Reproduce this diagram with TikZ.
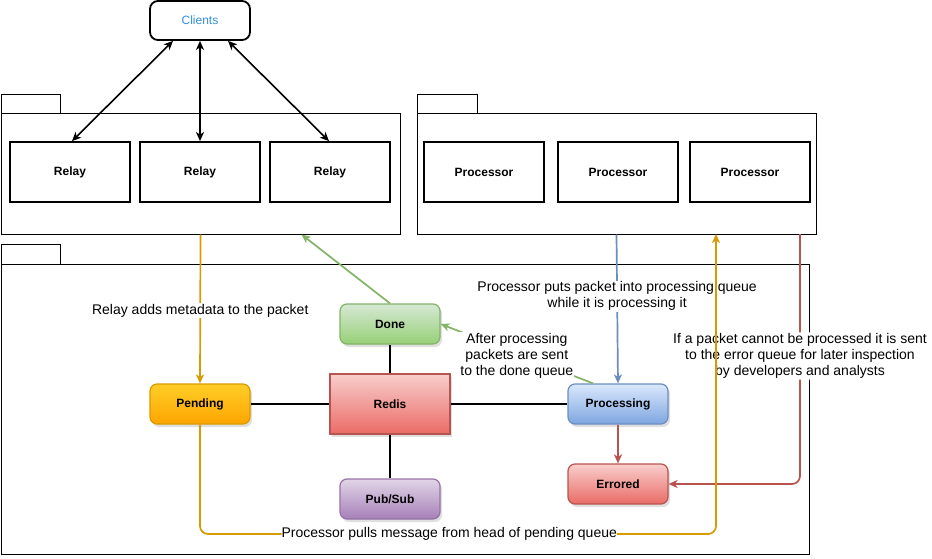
\documentclass[tikz,border=0pt]{standalone}
\usepackage{fontspec}
\setmainfont{Liberation Sans}
\usetikzlibrary{arrows.meta,shadows}

\definecolor{giallo}{HTML}{D79B00}
\definecolor{verde}{HTML}{82B366}
\definecolor{blu}{HTML}{6C8EBF}
\definecolor{rosso}{HTML}{B85450}
\definecolor{viola}{HTML}{9673A6}
\definecolor{azzurro}{HTML}{2F8FDB}
\definecolor{gialloA}{HTML}{FFCD28}
\definecolor{gialloB}{HTML}{FFA500}
\definecolor{verdeA}{HTML}{D5E8D4}
\definecolor{verdeB}{HTML}{97D077}
\definecolor{rossoA}{HTML}{F8CECC}
\definecolor{rossoB}{HTML}{EA6B66}
\definecolor{violaA}{HTML}{E1D5E7}
\definecolor{violaB}{HTML}{A680B8}
\definecolor{bluA}{HTML}{DAE8FC}
\definecolor{bluB}{HTML}{7EA6E0}

\begin{document}
\begin{tikzpicture}[x=1pt,y=-1pt,
  font=\fontsize{12}{16}\selectfont,
  freccia/.style={line width=1.7pt,-{Stealth[length=9pt,width=8pt,inset=2.5pt]}},
  doppia/.style={line width=1.6pt,{Stealth[length=9pt,width=8pt,inset=2.5pt]}-{Stealth[length=9pt,width=8pt,inset=2.5pt]}},
  scatola/.style={draw,line width=1.8pt,minimum width=120pt,minimum height=60pt,font=\fontsize{12}{16}\selectfont\bfseries},
  pacco/.style={draw,line width=1pt,inner sep=0pt},
  coda/.style={draw,line width=1.2pt,rounded corners=7pt,minimum width=100pt,minimum height=40pt,
    font=\fontsize{12}{16}\selectfont\bfseries,
    drop shadow={shadow xshift=2pt,shadow yshift=-3pt,opacity=0.25}},
  etichetta/.style={fill=white,inner sep=1pt,align=center,text=black,yshift=-2pt,font=\fontsize{14}{16}\selectfont}]

\useasboundingbox (0,0) rectangle (932,559);

% pacchetti
\draw[pacco] (1,95) rectangle (60,114);
\node[pacco,minimum width=399pt,minimum height=120pt] (relays) at (200.5,174) {};
\draw[pacco] (417,95) rectangle (477,114);
\node[pacco,minimum width=399pt,minimum height=120pt] (procs) at (616.5,174) {};
\draw[pacco] (1,244) rectangle (60,264);
\node[pacco,minimum width=808pt,minimum height=290pt] (redisbox) at (405,409) {};

% clients
\node[draw,line width=1.8pt,rounded corners=8pt,minimum width=100pt,minimum height=39pt,text=azzurro] (clients) at (200,20.5) {Clients};

% relay
\node[scatola] (relay1) at (70,172) {Relay};
\node[scatola] (relay2) at (200,172) {Relay};
\node[scatola] (relay3) at (330,172) {Relay};

% processor
\node[scatola] (proc1) at (484,172) {Processor};
\node[scatola] (proc2) at (618,172) {Processor};
\node[scatola] (proc3) at (750,172) {Processor};

\draw[doppia] ([xshift=-27pt]clients.south) -- ([xshift=2pt]relay1.north);
\draw[doppia] (clients.south) -- (relay2.north);
\draw[doppia] ([xshift=28pt]clients.south) -- ([xshift=-1pt]relay3.north);

% code
\node[coda,draw=giallo,top color=gialloA,bottom color=gialloB] (pending) at (200,404) {Pending};
\node[draw=rosso,line width=1.2pt,minimum width=120pt,minimum height=60pt,font=\fontsize{12}{16}\selectfont\bfseries,
  top color=rossoA,bottom color=rossoB,
  drop shadow={shadow xshift=2pt,shadow yshift=-3pt,opacity=0.25}] (redis) at (390,404) {Redis};
\node[coda,draw=verde,top color=verdeA,bottom color=verdeB] (done) at (390,324) {Done};
\node[coda,draw=viola,top color=violaA,bottom color=violaB] (pubsub) at (390,499) {Pub/Sub};
\node[coda,draw=blu,top color=bluA,bottom color=bluB] (processing) at (618,404) {Processing};
\node[coda,draw=rosso,top color=rossoA,bottom color=rossoB] (errored) at (618,484) {Errored};

% collegamenti
\draw[line width=1.6pt] (pending.east) -- (redis.west);
\draw[line width=1.6pt] (redis.east) -- (processing.west);
\draw[line width=1.6pt] (done.south) -- (redis.north);
\draw[line width=1.6pt] (redis.south) -- (pubsub.north);

% frecce colorate
\draw[freccia,giallo] (relays.south) -- node[etichetta] {Relay adds metadata to the packet} (pending.north);
\draw[freccia,verde] (done.north) -- ([xshift=101pt]relays.south);
\draw[freccia,verde] ([xshift=-25pt]processing.north) -- node[etichetta] {After processing\\packets are sent\\to the done queue} (done.east);
\draw[freccia,blu] (procs.south) -- node[etichetta,pos=0.4] {Processor puts packet into processing queue\\while it is processing it} (processing.north);
\draw[freccia,rosso] (processing.south) -- (errored.north);

\coordinate (errtop) at (800,234);
\coordinate (errgiu) at (800,484);
\draw[freccia,rosso,rounded corners=8pt] (errtop) -- node[etichetta,pos=0.48] {If a packet cannot be processed it is sent\\to the error queue for later inspection\\by developers and analysts} (errgiu) -- (errored.east);

\coordinate (pull1) at (200,534);
\coordinate (pull2) at (716,534);
\coordinate (pullend) at (716,234);
\draw[freccia,giallo,rounded corners=8pt] (pending.south) -- (pull1) -- node[etichetta,pos=0.483,inner sep=0pt,yshift=2pt] {Processor pulls message from head of pending queue} (pull2) -- (pullend);

\end{tikzpicture}
\end{document}
